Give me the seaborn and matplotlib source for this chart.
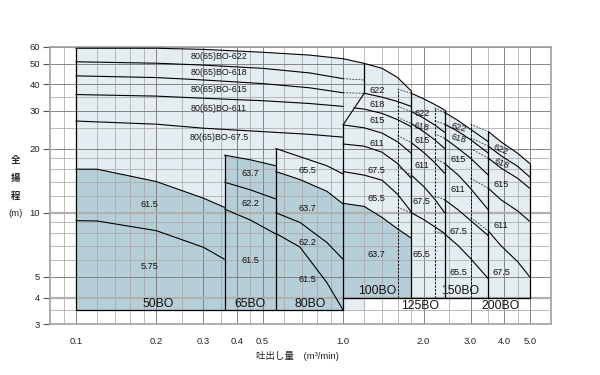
import numpy as np
import pandas as pd
import matplotlib
matplotlib.use("Agg")
import matplotlib.pyplot as plt
from matplotlib.ticker import NullFormatter, FixedLocator
import seaborn as sns

sns.set_theme(style="white")
plt.rcParams['font.family'] = ['Liberation Sans', 'Noto Sans CJK JP', 'DejaVu Sans']

LIGHT = "#e4edf1"
DARK = "#b6ced7"

# ---------------- data ----------------
# 80(65)BO-6xx family (flow m3/min, head m)
q_big = [0.1, 0.2, 0.3, 0.5, 0.75, 1.0]
q_big_top = [0.1, 0.2, 0.3, 0.5, 0.75, 1.0, 1.2]
h_big_622 = [59, 59, 58.3, 56.5, 54.8, 52.7, 50.1]
h_big_618 = [51, 50.2, 49.2, 47.5, 45.2, 42.5]
h_big_615 = [43.8, 43.0, 41.9, 40.3, 38.5, 36.5]
h_big_611 = [35.8, 35.2, 34.4, 33.5, 32.5, 31.5]
h_big_675 = [26.9, 26.0, 24.9, 24.0, 23.3, 22.6]
q_big_ext = [1.0, 1.2]
h_big_618_ext = [42.5, 41.9]
h_big_615_ext = [36.5, 36.3]

# 50BO
q_50 = [0.1, 0.12, 0.2, 0.3, 0.36]
h_50_615 = [16.0, 16.0, 14.0, 11.7, 10.6]
h_50_575 = [9.18, 9.15, 8.24, 6.89, 6.05]
# 65BO
q_65 = [0.36, 0.45, 0.56]
h_65_637 = [18.6, 17.7, 16.6]
h_65_622 = [13.9, 12.8, 11.6]
h_65_615 = [10.4, 9.24, 7.95]
# 80BO
q_80 = [0.56, 0.69, 0.87, 1.0]
h_80_655 = [20.0, 18.3, 16.6, 15.2]
h_80_637 = [15.6, 14.3, 12.6, 11.0]
h_80_622 = [10.0, 9.0, 7.25, 6.05]
h_80_615 = [8.0, 6.9, 4.7, 3.5]

# 100BO
q_100_top = [1.2, 1.4, 1.6, 1.8]
h_100_622 = [50.1, 47.5, 43.0, 37.2]
h_100_618 = [36.3, 34.8, 33.2, 31.5]
q_100_615 = [1.1, 1.2, 1.4, 1.6, 1.8]
h_100_615 = [31.0, 30.6, 29.2, 27.3, 25.3]
q_100 = [1.0, 1.2, 1.4, 1.6, 1.8]
h_100_611 = [25.8, 25.0, 23.6, 21.5, 19.0]
h_100_675 = [21.0, 20.5, 19.2, 17.0, 14.5]
h_100_655 = [15.6, 15.0, 14.2, 12.2, 10.1]
h_100_637 = [11.07, 10.7, 9.5, 8.4, 7.6]

# 125BO (dashed below 1.8)
q_125 = [1.6, 1.8, 2.0, 2.2, 2.4]
h_125_622 = [38.0, 36.3, 34.2, 32.2, 30.3]
h_125_618 = [31.5, 29.8, 27.8, 25.8, 23.8]
h_125_615 = [28.0, 26.2, 24.0, 22.0, 20.0]
h_125_611 = [23.0, 21.3, 19.2, 17.2, 15.3]
h_125_675 = [16.5, 15.0, 13.3, 11.6, 10.0]
h_125_655 = [10.6, 10.0, 9.3, 8.6, 8.0]

# 150BO (dashed below 2.4)
q_150 = [2.2, 2.4, 2.7, 3.0, 3.5]
h_150_622 = [31.0, 29.5, 27.0, 24.6, 21.5]
h_150_618 = [27.0, 26.0, 24.0, 22.0, 19.0]
h_150_615 = [23.5, 22.3, 20.0, 18.0, 15.0]
h_150_611 = [18.0, 17.0, 15.0, 13.0, 10.3]
h_150_675 = [12.0, 11.5, 10.3, 9.2, 7.8]
h_150_655 = [8.2, 7.95, 7.0, 6.1, 4.9]

# 200BO (dashed below 3.5)
q_200 = [3.0, 3.5, 3.9, 4.5, 5.0]
h_200_622 = [26.0, 24.0, 21.5, 19.0, 17.0]
h_200_618 = [22.5, 20.5, 18.5, 16.5, 14.7]
h_200_615 = [20.0, 18.0, 16.2, 14.5, 13.0]
h_200_611 = [14.5, 13.0, 11.5, 10.2, 9.1]
h_200_675 = [9.5, 8.2, 7.0, 5.9, 5.0]

# labels
lab_txt = ["80(65)BO-622", "80(65)BO-618", "80(65)BO-615", "80(65)BO-611", "80(65)BO-67.5",
           "61.5", "5.75", "63.7", "62.2", "61.5", "65.5", "63.7", "62.2", "61.5",
           "622", "618", "615", "611", "67.5", "65.5", "63.7",
           "622", "618", "615", "611", "67.5", "65.5",
           "622", "618", "615", "611", "67.5", "65.5",
           "622", "618", "615", "611", "67.5"]
lab_q = [0.343] * 5 + [0.189, 0.189, 0.449, 0.449, 0.449, 0.733, 0.733, 0.733, 0.733] \
        + [1.337] * 7 + [1.971] * 6 + [2.70] * 6 + [3.90] * 5
lab_h = [53.9, 45.3, 38.0, 30.7, 22.6,
         10.9, 5.57, 15.2, 11.1, 6.0, 15.8, 10.5, 7.29, 4.89,
         37.2, 32.3, 27.2, 21.2, 15.8, 11.6, 6.34,
         29.3, 25.2, 21.9, 16.7, 11.3, 6.37,
         25.2, 22.3, 17.8, 12.9, 8.2, 5.25,
         19.8, 17.0, 13.5, 8.76, 5.25]
lab_rot = [0] * 22 + [-10] + [0] * 4 + [-15, -15] + [0] * 4 + [-22, -22] + [0] * 3

ser_txt = ["50BO", "65BO", "80BO", "100BO", "125BO", "150BO", "200BO"]
ser_q = [0.203, 0.449, 0.752, 1.337, 1.942, 2.74, 3.87]
ser_h = [3.73, 3.73, 3.73, 4.31, 3.65, 4.31, 3.65]

x_major = [0.1, 0.2, 0.3, 0.4, 0.5, 1.0, 2.0, 3.0, 4.0, 5.0]
x_major_lab = ["0.1", "0.2", "0.3", "0.4", "0.5", "1.0", "2.0", "3.0", "4.0", "5.0"]
x_minor = [0.09, 0.12, 0.14, 0.16, 0.18, 0.25, 0.35, 0.45, 0.6, 0.7, 0.8, 0.9,
           1.2, 1.4, 1.6, 1.8, 2.5, 3.5, 4.5]
y_major = [3, 4, 5, 10, 20, 30, 40, 50, 60]
y_minor = [3.5, 6, 7, 8, 9, 12, 14, 16, 18, 25, 35]

# ---------------- figure ----------------
fig = plt.figure(figsize=(6, 3.75), dpi=100)
ax = fig.add_axes([50 / 600, 1 - 324.3 / 375, 501 / 600, 277.6 / 375])
ax.set_xscale("log")
ax.set_yscale("log")
ax.set_xlim(0.08, 6.0)
ax.set_ylim(3, 60)

# light fills
ax.fill_between(q_big_top, h_big_622, 3.5, color=LIGHT, lw=0, zorder=1)
ax.fill_between(q_100_top, h_100_622, 4.0, color=LIGHT, lw=0, zorder=1)
ax.fill_between([1.0, 1.2], [25.8, 36.3], 4.0, color=LIGHT, lw=0, zorder=1)
ax.fill_between(q_125, h_125_622, 4.0, color=LIGHT, lw=0, zorder=1)
ax.fill_between(q_150, h_150_622, 4.0, color=LIGHT, lw=0, zorder=1)
ax.fill_between(q_200, h_200_622, 4.0, color=LIGHT, lw=0, zorder=1)
# dark fills
ax.fill_between(q_50, h_50_615, 3.5, color=DARK, lw=0, zorder=1.2)
ax.fill_between(q_65, h_65_637, 3.5, color=DARK, lw=0, zorder=1.2)
ax.fill_between(q_80, h_80_637, 3.5, color=DARK, lw=0, zorder=1.2)
ax.fill_between(q_100, h_100_637, 4.0, color=DARK, lw=0, zorder=1.2)

# grid
for xv in x_minor:
    ax.axvline(xv, color="#a8a8a8", lw=0.55, zorder=1.5)
for xv in x_major:
    ax.axvline(xv, color="#7c7c7c", lw=0.65, zorder=1.5)
for yv in y_minor:
    ax.axhline(yv, color="#a8a8a8", lw=0.55, zorder=1.5)
for yv in y_major:
    ax.axhline(yv, color="#7c7c7c", lw=0.65, zorder=1.5)
ax.axhline(10, color="#b0b0b0", lw=1.6, zorder=1.5)
ax.axhline(4, color="#b0b0b0", lw=1.6, zorder=1.5)


def curve(q, h, dashed_until=None, lw=0.8):
    df = pd.DataFrame({"q": q, "h": h})
    if dashed_until is None:
        sns.lineplot(data=df, x="q", y="h", ax=ax, color="black", lw=lw,
                     sort=False, estimator=None, zorder=3)
    else:
        d1 = df[df.q <= dashed_until]
        d2 = df[df.q >= dashed_until]
        sns.lineplot(data=d1, x="q", y="h", ax=ax, color="#333333", lw=0.6,
                     sort=False, estimator=None, zorder=3, linestyle=(0, (2.2, 1.5)))
        sns.lineplot(data=d2, x="q", y="h", ax=ax, color="black", lw=lw,
                     sort=False, estimator=None, zorder=3)


def vline(x, y0, y1, dashed=False):
    ls = (0, (2.2, 1.5)) if dashed else "-"
    ax.plot([x, x], [y0, y1], color="black", lw=0.7 if dashed else 0.9,
            linestyle=ls, zorder=3)


# big family
curve(q_big_top, h_big_622)
for hh in [h_big_618, h_big_615, h_big_611, h_big_675]:
    curve(q_big, hh)
curve(q_big_ext, h_big_618_ext, dashed_until=1.2)
curve(q_big_ext, h_big_615_ext, dashed_until=1.2)
# 50/65/80
curve(q_50, h_50_615); curve(q_50, h_50_575)
curve(q_65, h_65_637); curve(q_65, h_65_622); curve(q_65, h_65_615)
for hh in [h_80_655, h_80_637, h_80_622, h_80_615]:
    curve(q_80, hh)
# 100
curve(q_100_top, h_100_622); curve(q_100_top, h_100_618)
curve(q_100_615, h_100_615)
for hh in [h_100_611, h_100_675, h_100_655, h_100_637]:
    curve(q_100, hh)
for hh in [h_125_622, h_125_618, h_125_615, h_125_611, h_125_675, h_125_655]:
    curve(q_125, hh, dashed_until=1.8)
for hh in [h_150_622, h_150_618, h_150_615, h_150_611, h_150_675, h_150_655]:
    curve(q_150, hh, dashed_until=2.4)
for hh in [h_200_622, h_200_618, h_200_615, h_200_611, h_200_675]:
    curve(q_200, hh, dashed_until=3.5)

# outlines
vline(0.1, 3.5, h_big_622[0])
vline(0.36, 3.5, h_65_637[0])
vline(0.56, 3.5, h_80_655[0])
vline(1.0, 3.5, 25.8)
vline(1.2, 36.3, h_big_622[-1])
ax.plot([1.0, 1.2], [25.8, 36.3], color="black", lw=0.8, zorder=3)
ax.plot([0.1, 1.0], [3.5, 3.5], color="black", lw=0.9, zorder=3)
ax.plot([1.0, 5.0], [4.0, 4.0], color="black", lw=0.9, zorder=3)
vline(1.8, 4.0, h_100_622[-1])
vline(1.6, 4.0, h_125_622[0], dashed=True)
vline(2.4, 4.0, h_125_622[-1])
vline(2.2, 4.0, h_150_622[0], dashed=True)
vline(3.5, 4.0, h_200_622[1])
vline(3.0, 4.0, h_200_622[0], dashed=True)
vline(5.0, 4.0, h_200_622[-1])

# labels
for i, (t, q, h, r) in enumerate(zip(lab_txt, lab_q, lab_h, lab_rot)):
    ax.text(q, h, t, fontsize=6.4 if i < 5 else 6.6, ha="center", va="center",
            rotation=r, color="#111111", zorder=4)
for t, q, h in zip(ser_txt, ser_q, ser_h):
    ax.text(q, h, t, fontsize=8.8, ha="center", va="center", color="#111111", zorder=4)

# axes styling
ax.xaxis.set_major_locator(FixedLocator(x_major))
ax.set_xticklabels(x_major_lab)
ax.xaxis.set_minor_locator(FixedLocator(x_minor))
ax.xaxis.set_minor_formatter(NullFormatter())
ax.yaxis.set_major_locator(FixedLocator(y_major))
ax.set_yticklabels([str(v) for v in y_major])
ax.yaxis.set_minor_locator(FixedLocator(y_minor))
ax.yaxis.set_minor_formatter(NullFormatter())
ax.tick_params(axis="x", which="both", length=0, pad=9, labelsize=6.8, colors="#222222")
ax.tick_params(axis="y", which="major", length=5, width=0.8, color="#555555",
               pad=2, labelsize=6.8, labelcolor="#222222", left=True)
ax.tick_params(axis="y", which="minor", length=0)
for s in ax.spines.values():
    s.set_color("#a0a0a0")
    s.set_linewidth(1.2)
ax.set_xlabel("")
ax.set_ylabel("")

# axis titles
for ch, yy in zip(["全", "揚", "程", "(m)"], [0.573, 0.525, 0.477, 0.432]):
    fig.text(0.026, yy, ch, fontsize=6.8, ha="center", va="center", color="#222222",
             fontweight="bold" if ch != "(m)" else "normal")
fig.text(0.495, 0.05, "吐出し量　(m³/min)", fontsize=6.8, ha="center", va="center",
         color="#222222")

fig.savefig("out.png", dpi=100)
